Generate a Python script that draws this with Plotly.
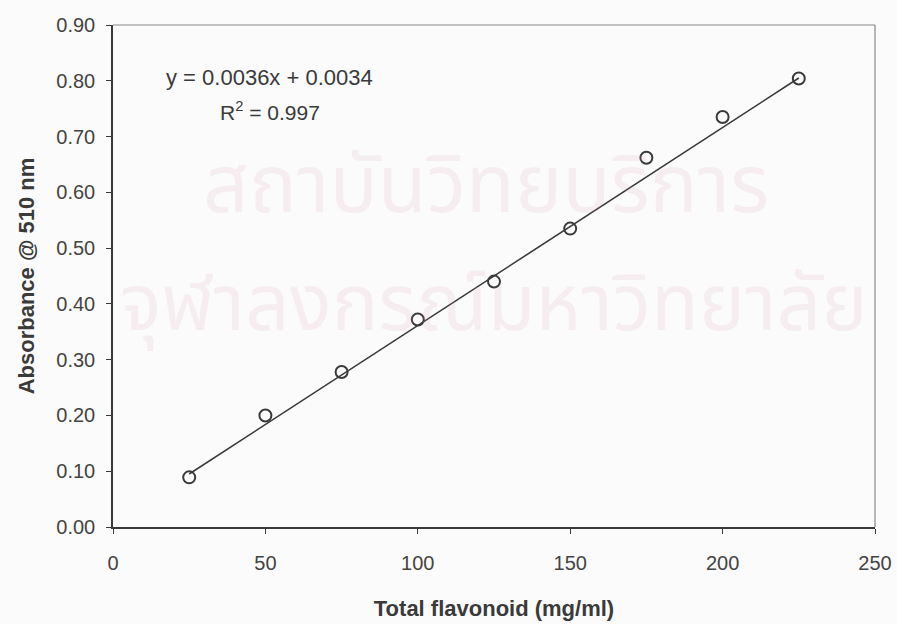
import plotly.graph_objects as go

# Data
conc = [25, 50, 75, 100, 125, 150, 175, 200, 225]
absorbance = [0.089, 0.200, 0.278, 0.372, 0.440, 0.535, 0.662, 0.735, 0.804]
trend_x = [25, 225]
trend_y = [0.095, 0.805]
x_ticks = [0, 50, 100, 150, 200, 250]
y_ticks = [0.0, 0.1, 0.2, 0.3, 0.4, 0.5, 0.6, 0.7, 0.8, 0.9]
eq_text = "y = 0.0036x + 0.0034"
r2_text = "R<sup>2</sup> = 0.997"
watermark1 = "สถาบันวิทยบริการ"
watermark2 = "จุฬาลงกรณ์มหาวิทยาลัย"

ink = "#3a3a3a"
font_family = "Liberation Sans, Arial, sans-serif"
thai_family = "Noto Sans Thai, Noto Sans, DejaVu Sans, sans-serif"
wm_color = "rgba(215,150,180,0.13)"

fig = go.Figure()

# faint watermark text (behind the data)
fig.add_annotation(xref="paper", yref="paper", x=0.49, y=0.80, text=watermark1,
                   showarrow=False, font=dict(size=80, color=wm_color, family=thai_family))
fig.add_annotation(xref="paper", yref="paper", x=0.5, y=0.44, text=watermark2,
                   showarrow=False, font=dict(size=78, color=wm_color, family=thai_family))

fig.add_trace(go.Scatter(
    x=trend_x, y=trend_y, mode="lines",
    line=dict(color=ink, width=1.6), showlegend=False, hoverinfo="skip"))

fig.add_trace(go.Scatter(
    x=conc, y=absorbance, mode="markers",
    marker=dict(symbol="circle-open", size=12, color=ink, line=dict(width=2, color=ink)),
    showlegend=False))

fig.add_annotation(x=51.5, y=0.806, text=eq_text, showarrow=False,
                   font=dict(size=22, color=ink, family=font_family))
fig.add_annotation(x=51.5, y=0.745, text=r2_text, showarrow=False,
                   font=dict(size=21, color=ink, family=font_family))

# lighter top/right frame
fig.add_shape(type="line", xref="paper", yref="paper", x0=0, x1=1, y0=1, y1=1,
              line=dict(color="#8a8a8a", width=1.2))
fig.add_shape(type="line", xref="paper", yref="paper", x0=1, x1=1, y0=0, y1=1,
              line=dict(color="#8a8a8a", width=1.2))

fig.update_xaxes(
    range=[0, 250], tickvals=x_ticks, ticks="outside", ticklen=5, tickcolor=ink,
    showline=True, linecolor=ink, linewidth=1.5, showgrid=False, zeroline=False,
    ticklabelstandoff=12, automargin=False,
    tickfont=dict(size=20, color="#444", family=font_family),
    title=dict(text="<b>Total flavonoid (mg/ml)</b>", font=dict(size=22, color=ink, family=font_family),
               standoff=28))
fig.update_yaxes(
    range=[0, 0.9], tickvals=y_ticks, tickformat=".2f", ticks="outside", ticklen=5, tickcolor=ink,
    showline=True, linecolor=ink, linewidth=1.5, showgrid=False, zeroline=False,
    ticklabelstandoff=7, automargin=False,
    tickfont=dict(size=20, color="#444", family=font_family),
    title=dict(text="<b>Absorbance @ 510 nm</b>", font=dict(size=22, color=ink, family=font_family),
               standoff=16))

fig.update_layout(
    width=897, height=624,
    margin=dict(l=113, r=22, t=25, b=97),
    paper_bgcolor="#fbfbfb", plot_bgcolor="#fbfbfb",
)

fig.write_html("out.html")
